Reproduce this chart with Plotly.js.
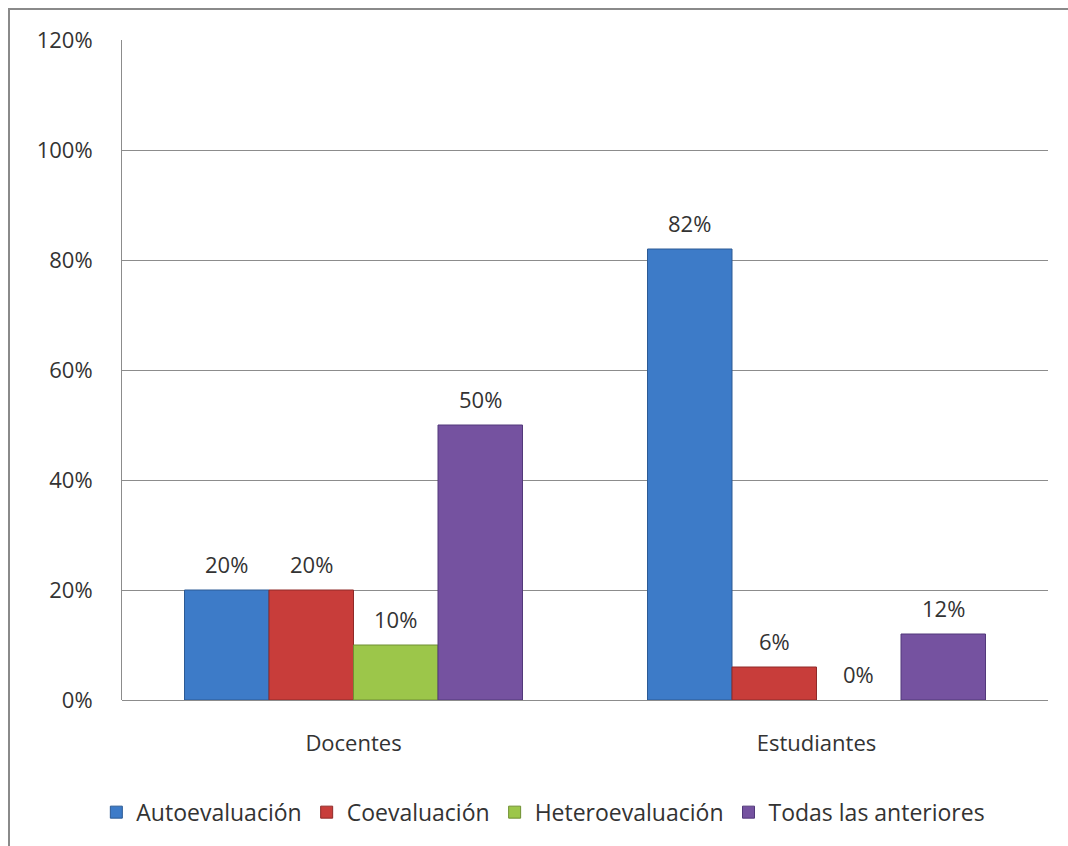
<!DOCTYPE html>
<html>
<head>
<meta charset="utf-8">
<script src="https://cdn.plot.ly/plotly-3.0.1.min.js"></script>
<style>
html,body{margin:0;padding:0;background:#fff;}
#chart{width:1068px;height:846px;}
</style>
</head>
<body>
<div id="chart"></div>
<script>
const categories = ["Docentes", "Estudiantes"];
const seriesNames = ["Autoevaluación", "Coevaluación", "Heteroevaluación", "Todas las anteriores"];
const autoevaluacion = [0.20, 0.82];
const coevaluacion = [0.20, 0.06];
const heteroevaluacion = [0.10, 0.00];
const todas = [0.50, 0.12];
const yTickVals = [0, 0.2, 0.4, 0.6, 0.8, 1.0, 1.2];

const seriesValues = [autoevaluacion, coevaluacion, heteroevaluacion, todas];
const fillColors = ["#3d7bc8", "#c83d3a", "#9cc64a", "#7552a0"];
const lineColors = ["#2c5a94", "#8f2a28", "#6f8f32", "#52397a"];

const FONT = "Open Sans, Noto Sans, sans-serif";
const FS = 22;
const bargap = 0.27;

const traces = seriesValues.map((vals, i) => ({
  type: "bar",
  name: seriesNames[i],
  x: categories,
  y: vals,
  marker: { color: fillColors[i], line: { color: lineColors[i], width: vals.map(v => v > 0 ? 1 : 0) } },
  hoverinfo: "x+y+name"
}));

// data labels as annotations above each bar
const annotations = [];
const nS = seriesValues.length;
const bw = (1 - bargap) / nS;
seriesValues.forEach((vals, i) => {
  vals.forEach((v, c) => {
    annotations.push({
      x: c - (1 - bargap) / 2 + (i + 0.5) * bw,
      y: v,
      xref: "x", yref: "y",
      text: Math.round(v * 100) + "%",
      showarrow: false,
      yanchor: "bottom",
      yshift: 9,
      font: { family: FONT, size: FS, color: "#333" }
    });
  });
});

const layout = {
  width: 1068, height: 846,
  margin: { l: 122, r: 20, t: 40, b: 144 },
  paper_bgcolor: "#fff", plot_bgcolor: "#fff",
  barmode: "group",
  bargap: bargap, bargroupgap: 0,
  font: { family: FONT, size: FS, color: "#333" },
  xaxis: {
    type: "category",
    showgrid: false,
    showline: false,
    ticks: "",
    ticklabelstandoff: 28,
    tickfont: { family: FONT, size: FS, color: "#333" },
    zeroline: false
  },
  yaxis: {
    range: [0, 1.2],
    tickvals: yTickVals,
    tickformat: ".0%",
    showgrid: true, gridcolor: "#8c8c8c", gridwidth: 1,
    zeroline: true, zerolinecolor: "#8c8c8c", zerolinewidth: 1,
    showline: true, linecolor: "#8c8c8c", linewidth: 1,
    ticks: "",
    ticklabelstandoff: 24,
    tickfont: { family: FONT, size: FS, color: "#333" },
    fixedrange: true
  },
  legend: {
    orientation: "h",
    x: 0.455, xanchor: "center",
    y: -0.17, yanchor: "middle",
    font: { family: FONT, size: 23, color: "#333" },
    traceorder: "normal",
    itemwidth: 30
  },
  showlegend: true,
  annotations: annotations,
  shapes: [{
    type: "rect", xref: "paper", yref: "paper",
    x0: (9 - 122) / 926, x1: (1080 - 122) / 926,
    y0: -0.3, y1: 1 + 31 / 662,
    line: { color: "#8a8a8a", width: 2 },
    fillcolor: "rgba(0,0,0,0)",
    layer: "below"
  }]
};

Plotly.newPlot("chart", traces, layout, { displayModeBar: false, staticPlot: true });
</script>
</body>
</html>
